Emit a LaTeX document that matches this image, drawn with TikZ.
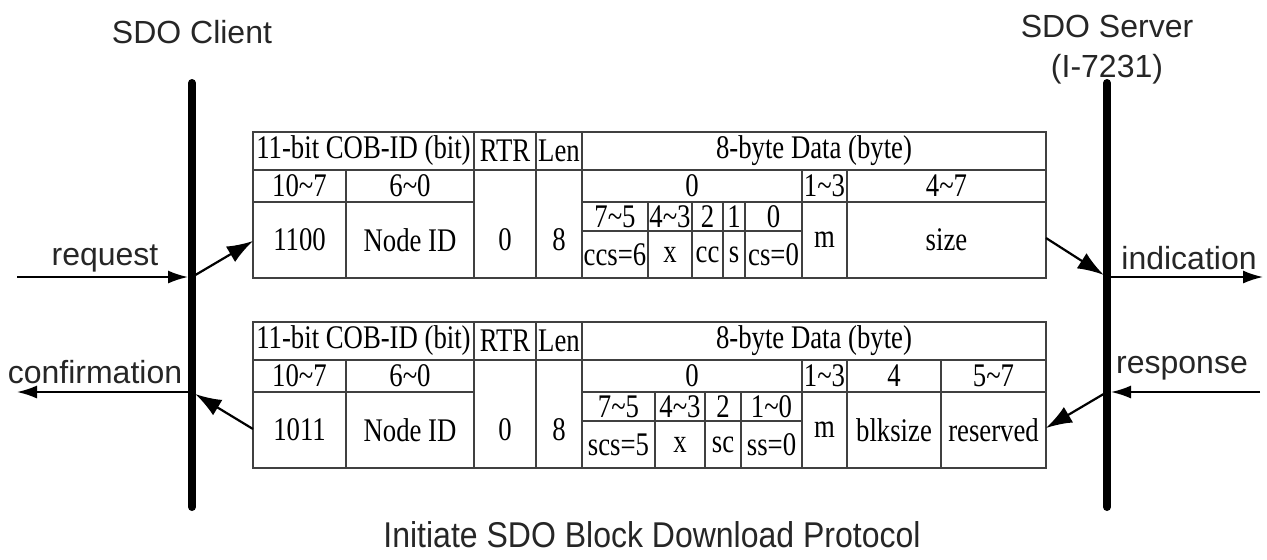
\documentclass[tikz,border=0pt]{standalone}
\usepackage{fontspec}
\setmainfont{Liberation Sans}
\newfontfamily\tabfont[FakeStretch=0.81]{Liberation Serif}
\usetikzlibrary{arrows.meta}

\begin{document}
\begin{tikzpicture}[x=0.5pt,y=-0.5pt,
  lbl/.style={font=\fontsize{16}{20}\selectfont,text=black!85},
  cell/.style={font=\tabfont\fontsize{16.5}{18}\selectfont,inner sep=0pt},
  grid/.style={line width=1pt,black!75},
  bar/.style={line width=4pt,line cap=round},
  msg/.style={line width=1.1pt,-{Latex[length=13pt,width=9pt]}},
  flow/.style={line width=0.9pt,-{Latex[length=10pt,width=6.5pt]}}]
  \useasboundingbox (0,0) rectangle (1267,559);
  % client and server
  \node[lbl] (client) at (192,32) {SDO Client};
  \node[lbl,align=center] (server) at (1107,50) {SDO Server\\(I-7231)};
  \coordinate (cl-top) at (192,83);
  \coordinate (cl-bot) at (192,507);
  \coordinate (sv-top) at (1107,83);
  \coordinate (sv-bot) at (1107,507);
  \draw[bar] (cl-top) -- (cl-bot);
  \draw[bar] (sv-top) -- (sv-bot);
  % common frame of both messages
  \foreach \t/\y/\id in {req/132/1100, resp/322/1011} {
    \draw[grid] (253,\y) rectangle (1046,\y+146);
    \draw[grid] (253,\y+38) -- (1046,\y+38);
    \draw[grid] (253,\y+70) -- (474,\y+70);
    \draw[grid] (582,\y+70) -- (1046,\y+70);
    \draw[grid] (582,\y+99) -- (802,\y+99);
    \draw[grid] (346,\y+38) -- (346,\y+146);
    \draw[grid] (474,\y) -- (474,\y+146);
    \draw[grid] (536,\y) -- (536,\y+146);
    \draw[grid] (582,\y) -- (582,\y+146);
    \draw[grid] (802,\y+38) -- (802,\y+146);
    \draw[grid] (847,\y+38) -- (847,\y+146);
    \node[cell] (\t-cob) at (363.5,\y+19) {11-bit COB-ID (bit)};
    \node[cell] (\t-rtr) at (505,\y+19) {RTR};
    \node[cell] (\t-len) at (559,\y+19) {Len};
    \node[cell] (\t-data) at (814,\y+19) {8-byte Data (byte)};
    \node[cell] (\t-b107) at (299.5,\y+54) {10\textasciitilde7};
    \node[cell] (\t-b60) at (410,\y+54) {6\textasciitilde0};
    \node[cell] (\t-byte0) at (692,\y+54) {0};
    \node[cell] (\t-byte13) at (824.5,\y+54) {1\textasciitilde3};
    \node[cell] (\t-fn) at (299.5,\y+108) {\id};
    \node[cell] (\t-node) at (410,\y+108) {Node ID};
    \node[cell] (\t-rtrv) at (505,\y+108) {0};
    \node[cell] (\t-lenv) at (559,\y+108) {8};
    \node[cell] (\t-m) at (824.5,\y+108) {m};
  }
  % request data
  \foreach \x in {648,692,723,745}
    \draw[grid] (\x,202) -- (\x,278);
  \node[cell] (req-b47) at (946.5,186) {4\textasciitilde7};
  \node[cell] (req-size) at (946.5,240) {size};
  \foreach \n/\x/\bits/\val in {a/615/7\textasciitilde5/ccs=6, b/670/4\textasciitilde3/x,
      c/707.5/2/cc, d/734/1/s, e/773.5/0/cs=0} {
    \node[cell] (req-bit\n) at (\x,216.5) {\bits};
    \node[cell] (req-val\n) at (\x,254.5) {\val};
  }
  % response data
  \foreach \x in {655,705,741}
    \draw[grid] (\x,392) -- (\x,468);
  \draw[grid] (941,360) -- (941,468);
  \node[cell] (resp-b4) at (894,376) {4};
  \node[cell] (resp-b57) at (993.5,376) {5\textasciitilde7};
  \node[cell] (resp-blk) at (894,430) {blksize};
  \node[cell] (resp-res) at (993.5,430) {reserved};
  \foreach \n/\x/\bits/\val in {a/618.5/7\textasciitilde5/scs=5, b/680/4\textasciitilde3/x,
      c/723/2/sc, d/771.5/1\textasciitilde0/ss=0} {
    \node[cell] (resp-bit\n) at (\x,406.5) {\bits};
    \node[cell] (resp-val\n) at (\x,444.5) {\val};
  }
  % arrows
  \coordinate (req-in) at (17,277);
  \coordinate (cl-req) at (192,277);
  \coordinate (req-west) at (253,241);
  \coordinate (req-east) at (1046,238);
  \coordinate (sv-ind) at (1107,277);
  \coordinate (ind-out) at (1263,277);
  \coordinate (resp-in) at (1260,392);
  \coordinate (sv-resp) at (1107,392);
  \coordinate (resp-east) at (1046,428);
  \coordinate (resp-west) at (253,429);
  \coordinate (cl-conf) at (192,392);
  \coordinate (conf-out) at (17,392);
  \draw[flow,shorten >=2pt] (req-in) -- (cl-req);
  \draw[msg] (cl-req) -- (req-west);
  \draw[msg,shorten >=2pt] (req-east) -- (sv-ind);
  \draw[flow] (sv-ind) -- (ind-out);
  \draw[flow,shorten >=2pt] (resp-in) -- (sv-resp);
  \draw[msg] (sv-resp) -- (resp-east);
  \draw[msg,shorten >=2pt] (resp-west) -- (cl-conf);
  \draw[flow] (cl-conf) -- (conf-out);
  \node[lbl] (request) at (105,258) {request};
  \node[lbl] (indication) at (1189,258) {indication};
  \node[lbl] (confirmation) at (95,372) {confirmation};
  \node[lbl] (response) at (1182,368) {response};
  % caption
  \node[lbl] (caption) at (652,535) {\scalebox{1}[1.12]{Initiate SDO Block Download Protocol}};
\end{tikzpicture}
\end{document}
